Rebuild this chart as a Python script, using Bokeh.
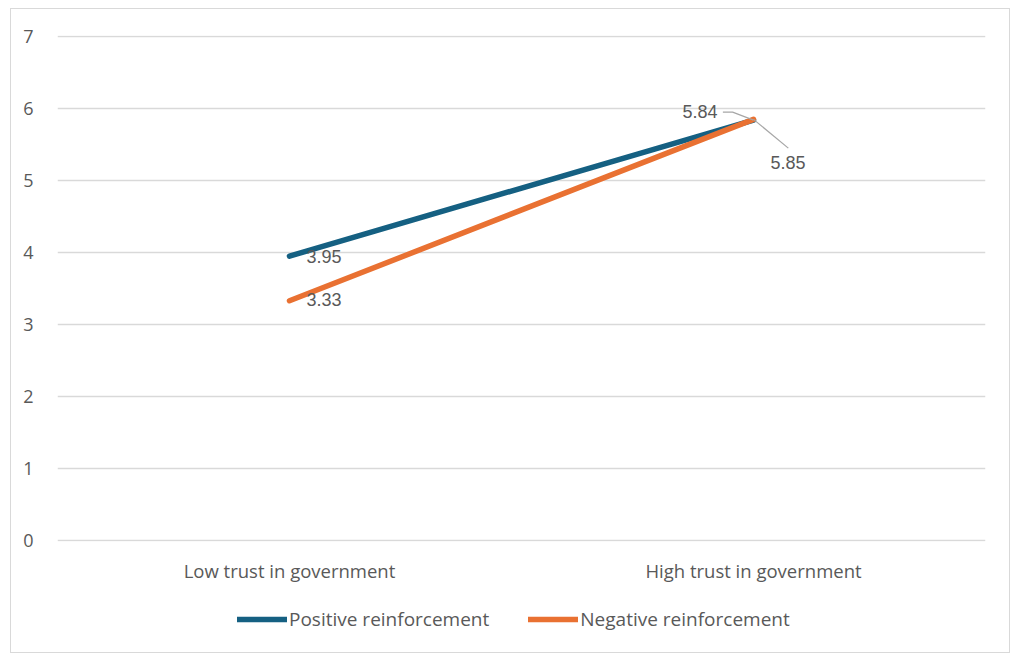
from bokeh.plotting import figure
from bokeh.layouts import column
from bokeh.models import FixedTicker, Legend, LegendItem, Range1d
from bokeh.embed import file_html
from bokeh.resources import INLINE
from bokeh.core.properties import value

categories = ["Low trust in government", "High trust in government"]
positive = [3.95, 5.84]
negative = [3.33, 5.85]
y_ticks = [0, 1, 2, 3, 4, 5, 6, 7]
series_names = ["Positive reinforcement", "Negative reinforcement"]

BLUE = "#156082"
ORANGE = "#E97132"
TXT = "#595959"
FONT = "Open Sans"
W = 998

xs = list(range(len(categories)))

p = figure(width=W, height=586, output_backend="svg", toolbar_location=None,
           x_range=(-0.5, len(categories) - 0.5), y_range=(-0.015, 7.015),
           min_border_left=46, min_border_right=24, min_border_top=26, min_border_bottom=54)
p.outline_line_color = None
p.background_fill_color = "white"

p.xaxis.ticker = FixedTicker(ticks=xs)
p.xaxis.major_label_overrides = {i: c for i, c in enumerate(categories)}
p.yaxis.ticker = FixedTicker(ticks=y_ticks)
for ax in (p.xaxis, p.yaxis):
    ax.axis_line_color = None
    ax.major_tick_line_color = None
    ax.minor_tick_line_color = None
    ax.major_label_text_color = TXT
    ax.major_label_text_font = FONT
ax = None
p.xaxis.major_label_text_font_size = "18.5px"
p.yaxis.major_label_text_font_size = "18px"
p.xaxis.major_label_standoff = 10
p.yaxis.major_label_standoff = 18
p.xgrid.grid_line_color = None
p.ygrid.grid_line_color = "#d9d9d9"
p.ygrid.grid_line_width = 1.5

p.line(xs, positive, line_color=BLUE, line_width=5.5, line_cap="round")
p.line(xs, negative, line_color=ORANGE, line_width=5.5, line_cap="round")

# data labels
lbl = dict(text_color=TXT, text_font=value("Liberation Sans"), text_font_size="18px",
           text_baseline="middle")
p.text(x=[xs[0]], y=[positive[0]], text=[f"{positive[0]:.2f}"], x_offset=17, y_offset=0, **lbl)
p.text(x=[xs[0]], y=[negative[0]], text=[f"{negative[0]:.2f}"], x_offset=17, y_offset=-1, **lbl)
p.text(x=[xs[1]], y=[positive[1]], text=[f"{positive[1]:.2f}"], x_offset=-36, y_offset=-9,
       text_align="right", **lbl)
p.text(x=[xs[1]], y=[negative[1]], text=[f"{negative[1]:.2f}"], x_offset=17, y_offset=43, **lbl)

# leader lines
p.line([xs[1] - 0.066, xs[1] - 0.045, xs[1]], [positive[1] + 0.11, positive[1] + 0.11, positive[1]],
       line_color="#a6a6a6", line_width=1.2)
p.line([xs[1], xs[1] + 0.075], [negative[1], negative[1] - 0.4], line_color="#a6a6a6", line_width=1.2)

# legend strip (its sample lines use the series data, kept out of the visible range)
lg = figure(width=W, height=57, output_backend="svg", toolbar_location=None,
            x_range=Range1d(-0.5, 1.5), y_range=Range1d(100, 101),
            min_border_left=0, min_border_right=0, min_border_top=0, min_border_bottom=0)
lg.axis.visible = False
lg.grid.visible = False
lg.outline_line_color = None
d1 = lg.line(xs, positive, line_color=BLUE, line_width=5.5, line_cap="round")
d2 = lg.line(xs, negative, line_color=ORANGE, line_width=5.5, line_cap="round")
legend = Legend(items=[LegendItem(label=series_names[0], renderers=[d1]),
                       LegendItem(label=series_names[1], renderers=[d2])],
                orientation="horizontal", location=(180, 20),
                glyph_width=50, label_standoff=2, spacing=39,
                label_text_color=TXT, label_text_font=FONT, label_text_font_size="19px",
                border_line_color=None, background_fill_alpha=0, padding=0, margin=0)
lg.add_layout(legend, "center")

layout = column(p, lg, spacing=0, margin=(8, 0, 0, 10),
                styles={"border": "1px solid #d9d9d9"})

open("out.html", "w").write(file_html(layout, INLINE))
